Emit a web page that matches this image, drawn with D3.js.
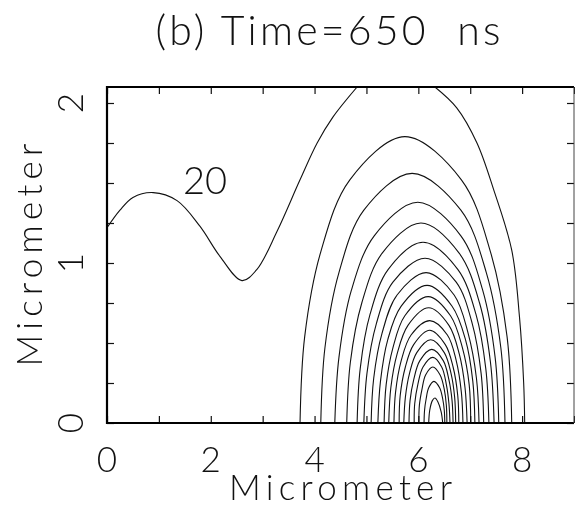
<!DOCTYPE html>
<html>
<head>
<meta charset="utf-8">
<title>(b) Time=650 ns</title>
<script src="https://d3js.org/d3.v7.min.js"></script>
<style>
  body { margin: 0; background: #fff; }
  svg { will-change: transform; }
  text { font-family: Lato, "DejaVu Sans", sans-serif; font-weight: 300; fill: #111; white-space: pre; }
</style>
</head>
<body>
<div id="chart"></div>
<script>

// ticks and tick labels
var xTicks = [0, 1, 2, 3, 4, 5, 6, 7, 8, 9];
var xLabels = [0, 2, 4, 6, 8];
var yTicks = [0, 0.25, 0.5, 0.75, 1, 1.25, 1.5, 1.75, 2];
var yLabels = [0, 1, 2];

// contour 20, in two pieces (wave from the left edge, and the outer right arc)
var wave20 = [[0, 1.22], [0.25, 1.33], [0.5, 1.41], [0.89, 1.44], [1.35, 1.39], [1.79, 1.23],
  [2.18, 1.04], [2.6, 0.89], [2.89, 0.96], [3.28, 1.2], [3.72, 1.52], [4.05, 1.75],
  [4.35, 1.91], [4.82, 2.1]];
var arc20 = [[6.32, 2.1], [6.74, 1.97], [7.13, 1.75], [7.45, 1.46], [7.8, 1.08],
  [7.95, 0.66], [8.03, 0.25], [8.05, 0]];

// nested rings, levels 40 .. 380
var levels = [40, 60, 80, 100, 120, 140, 160, 180, 200, 220, 240, 260, 280, 300, 320, 340, 360, 380];
var rings = [
  [[3.72,0],[3.81,0.54],[4.12,1.07],[4.68,1.52],[5.74,1.79],[6.83,1.52],[7.39,1.07],[7.71,0.54],[7.80,0]],
  [[4.12,0],[4.20,0.47],[4.47,0.94],[4.95,1.33],[5.88,1.56],[6.82,1.33],[7.31,0.94],[7.59,0.47],[7.67,0]],
  [[4.39,0],[4.47,0.41],[4.71,0.83],[5.15,1.17],[5.99,1.38],[6.82,1.17],[7.24,0.83],[7.48,0.41],[7.55,0]],
  [[4.62,0],[4.69,0.38],[4.91,0.75],[5.30,1.06],[6.05,1.25],[6.79,1.06],[7.18,0.75],[7.39,0.38],[7.46,0]],
  [[4.82,0],[4.88,0.34],[5.07,0.68],[5.42,0.96],[6.09,1.13],[6.76,0.96],[7.11,0.68],[7.30,0.34],[7.36,0]],
  [[4.95,0],[5.01,0.31],[5.19,0.62],[5.51,0.88],[6.13,1.03],[6.73,0.88],[7.04,0.62],[7.21,0.31],[7.26,0]],
  [[5.09,0],[5.14,0.28],[5.30,0.56],[5.59,0.80],[6.15,0.94],[6.69,0.80],[6.96,0.56],[7.12,0.28],[7.17,0]],
  [[5.22,0],[5.27,0.26],[5.41,0.52],[5.67,0.73],[6.17,0.86],[6.65,0.73],[6.91,0.52],[7.05,0.26],[7.09,0]],
  [[5.34,0],[5.38,0.24],[5.51,0.47],[5.74,0.67],[6.19,0.79],[6.62,0.67],[6.85,0.47],[6.98,0.24],[7.01,0]],
  [[5.43,0],[5.47,0.22],[5.59,0.43],[5.80,0.61],[6.20,0.72],[6.59,0.61],[6.79,0.43],[6.90,0.22],[6.94,0]],
  [[5.53,0],[5.56,0.19],[5.67,0.39],[5.86,0.55],[6.22,0.64],[6.56,0.55],[6.73,0.39],[6.83,0.19],[6.86,0]],
  [[5.63,0],[5.65,0.17],[5.75,0.35],[5.91,0.49],[6.22,0.58],[6.52,0.49],[6.67,0.35],[6.76,0.17],[6.78,0]],
  [[5.72,0],[5.75,0.16],[5.83,0.31],[5.97,0.44],[6.24,0.52],[6.50,0.44],[6.63,0.31],[6.70,0.16],[6.72,0]],
  [[5.82,0],[5.84,0.14],[5.91,0.27],[6.03,0.39],[6.26,0.46],[6.48,0.39],[6.59,0.27],[6.65,0.14],[6.67,0]],
  [[5.92,0],[5.93,0.12],[5.99,0.24],[6.09,0.35],[6.28,0.41],[6.45,0.35],[6.54,0.24],[6.59,0.12],[6.61,0]],
  [[6.01,0],[6.02,0.11],[6.07,0.21],[6.14,0.30],[6.28,0.35],[6.42,0.30],[6.50,0.21],[6.54,0.11],[6.55,0]],
  [[6.11,0],[6.12,0.08],[6.15,0.15],[6.20,0.22],[6.30,0.26],[6.41,0.22],[6.47,0.15],[6.50,0.08],[6.51,0]],
  [[6.20,0],[6.22,0.08],[6.27,0.14],[6.32,0.156],[6.38,0.13],[6.44,0.07],[6.47,0]]
];

var margin = {top: 87, right: 1, bottom: 90, left: 107},
    width = 575 - margin.left - margin.right,
    height = 513 - margin.top - margin.bottom;

var svg = d3.select("#chart")
    .append("svg")
    .attr("width", 575)
    .attr("height", 513)
  .append("g")
    .attr("transform", "translate(" + margin.left + "," + margin.top + ")");

var x = d3.scaleLinear().domain([0, 9]).range([0, width]);
var y = d3.scaleLinear().domain([0, 2.1]).range([height, 0]);

svg.append("clipPath")
    .attr("id", "plotclip")
  .append("rect")
    .attr("width", width)
    .attr("height", height);

var line = d3.line()
    .x(function(d) { return x(d[0]); })
    .y(function(d) { return y(d[1]); })
    .curve(d3.curveCatmullRom);

var plot = svg.append("g").attr("clip-path", "url(#plotclip)");

plot.selectAll(".ring")
    .data(rings)
  .enter().append("path")
    .attr("class", "ring")
    .attr("d", line)
    .attr("fill", "none")
    .attr("stroke", "#111")
    .attr("stroke-width", 1.1);

plot.selectAll(".c20")
    .data([wave20, arc20])
  .enter().append("path")
    .attr("class", "c20")
    .attr("d", line)
    .attr("fill", "none")
    .attr("stroke", "#111")
    .attr("stroke-width", 1.1);

// contour label
svg.append("text")
    .attr("x", x(1.89))
    .attr("y", y(1.43))
    .attr("text-anchor", "middle")
    .style("font-size", "38px")
    .text("20");

// ticks on all four sides, pointing inward
function ticksOnly(axis, vals) {
  return axis.tickValues(vals).tickSize(-7).tickSizeOuter(0).tickFormat("");
}
svg.append("g").attr("transform", "translate(0," + height + ")")
    .call(ticksOnly(d3.axisBottom(x), xTicks));
svg.append("g")
    .call(ticksOnly(d3.axisTop(x), xTicks));
svg.append("g")
    .call(ticksOnly(d3.axisLeft(y), yTicks));
svg.append("g").attr("transform", "translate(" + width + ",0)")
    .call(ticksOnly(d3.axisRight(y), yTicks));

svg.selectAll(".domain").remove();
svg.selectAll(".tick line").attr("stroke", "#111").attr("stroke-width", 1.2);

// frame
svg.append("path")
    .attr("d", "M" + width + ",0H0V" + height + "H" + width)
    .attr("fill", "none")
    .attr("stroke", "#000")
    .attr("stroke-width", 2.2);
svg.append("line")
    .attr("x1", width).attr("x2", width)
    .attr("y1", 0).attr("y2", height)
    .attr("stroke", "#444")
    .attr("stroke-width", 1);

// tick labels
svg.selectAll(".xlab")
    .data(xLabels)
  .enter().append("text")
    .attr("class", "xlab")
    .attr("x", function(d) { return x(d); })
    .attr("y", height + 49)
    .attr("text-anchor", "middle")
    .style("font-size", "35px")
    .text(function(d) { return d; });

svg.selectAll(".ylab")
    .data(yLabels)
  .enter().append("text")
    .attr("class", "ylab")
    .attr("transform", function(d) { return "translate(-24," + y(d) + ") rotate(-90)"; })
    .attr("text-anchor", "middle")
    .style("font-size", "35px")
    .text(function(d) { return d; });

// axis titles
svg.append("text")
    .attr("x", width / 2)
    .attr("y", height + 77)
    .attr("text-anchor", "middle")
    .attr("textLength", 223)
    .attr("lengthAdjust", "spacing")
    .style("font-size", "35px")
    .text("Micrometer");

svg.append("text")
    .attr("transform", "translate(-65," + (height / 2) + ") rotate(-90)")
    .attr("text-anchor", "middle")
    .attr("textLength", 223)
    .attr("lengthAdjust", "spacing")
    .style("font-size", "35px")
    .text("Micrometer");

// title
svg.append("text")
    .attr("x", 221)
    .attr("y", -42)
    .attr("text-anchor", "middle")
    .attr("textLength", 345)
    .attr("lengthAdjust", "spacing")
    .style("font-size", "41px")
    .text("(b) Time=650  ns");

</script>
</body>
</html>
